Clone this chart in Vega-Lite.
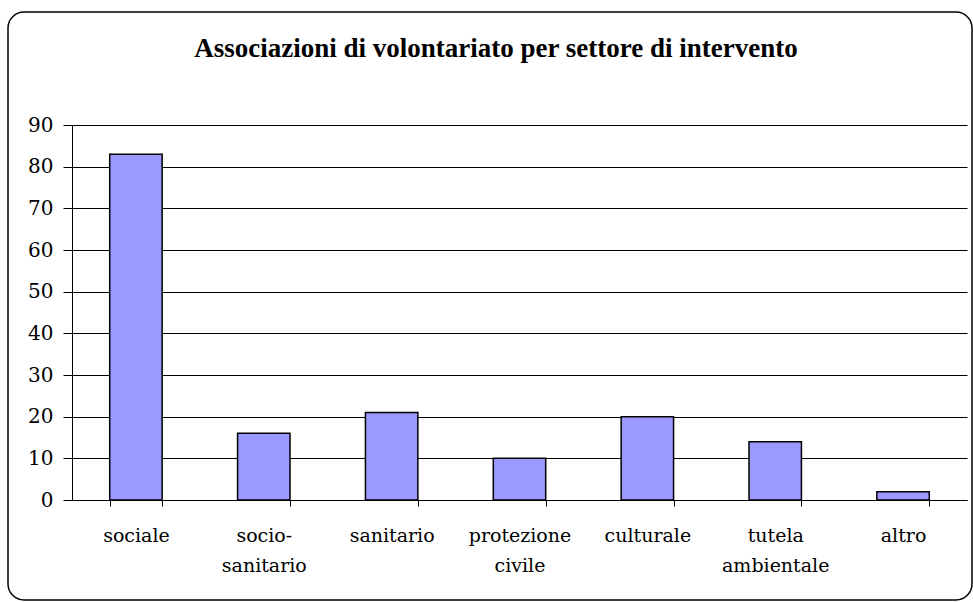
{
  "$schema": "https://vega.github.io/schema/vega-lite/v6.json",
  "width": 964,
  "height": 588,
  "autosize": "none",
  "padding": {"left": 8, "top": 12, "right": 1, "bottom": 2},
  "background": "white",
  "title": {
    "text": "Associazioni di volontariato per settore di intervento",
    "font": "Liberation Serif",
    "fontSize": 27,
    "fontWeight": "bold",
    "color": "black",
    "anchor": "middle",
    "frame": "group",
    "orient": "top",
    "baseline": "middle",
    "offset": -64,
    "dx": 6
  },
  "data": {
    "values": [
      {"settore": "sociale", "associazioni": 83},
      {"settore": "socio-sanitario", "associazioni": 16},
      {"settore": "sanitario", "associazioni": 21},
      {"settore": "protezione civile", "associazioni": 10},
      {"settore": "culturale", "associazioni": 20},
      {"settore": "tutela ambientale", "associazioni": 14},
      {"settore": "altro", "associazioni": 2}
    ]
  },
  "mark": {"type": "bar", "fill": "#9999FF", "stroke": "black", "strokeWidth": 1.5},
  "encoding": {
    "x": {
      "field": "settore",
      "type": "nominal",
      "sort": null,
      "scale": {"range": [64, 959], "paddingInner": 0.59, "paddingOuter": 0.295},
      "axis": {
        "title": null,
        "orient": "bottom",
        "offset": -100,
        "labelAngle": 0,
        "labelExpr": "split(replace(datum.label, '-', '- '), ' ')",
        "labelFont": "DejaVu Serif",
        "labelFontSize": 19,
        "labelColor": "black",
        "labelLineHeight": 30,
        "labelBaseline": "top",
        "labelPadding": 20,
        "tickBand": "extent",
        "tickSize": 6,
        "tickColor": "black",
        "domainColor": "black",
        "domainWidth": 1,
        "tickWidth": 1,
        "grid": false
      }
    },
    "y": {
      "field": "associazioni",
      "type": "quantitative",
      "scale": {"domain": [0, 90], "range": [488, 113], "nice": false},
      "axis": {
        "title": null,
        "orient": "left",
        "offset": -64,
        "values": [0, 10, 20, 30, 40, 50, 60, 70, 80, 90],
        "labelFont": "DejaVu Serif",
        "labelFontSize": 20,
        "labelColor": "black",
        "labelPadding": 10,
        "tickSize": 9,
        "tickColor": "black",
        "domainColor": "black",
        "grid": true,
        "gridColor": "black",
        "gridOpacity": 1,
        "gridWidth": 1
      }
    }
  },
  "config": {
    "view": {"stroke": "black", "strokeWidth": 1.5, "cornerRadius": 16, "fill": "white"}
  }
}
